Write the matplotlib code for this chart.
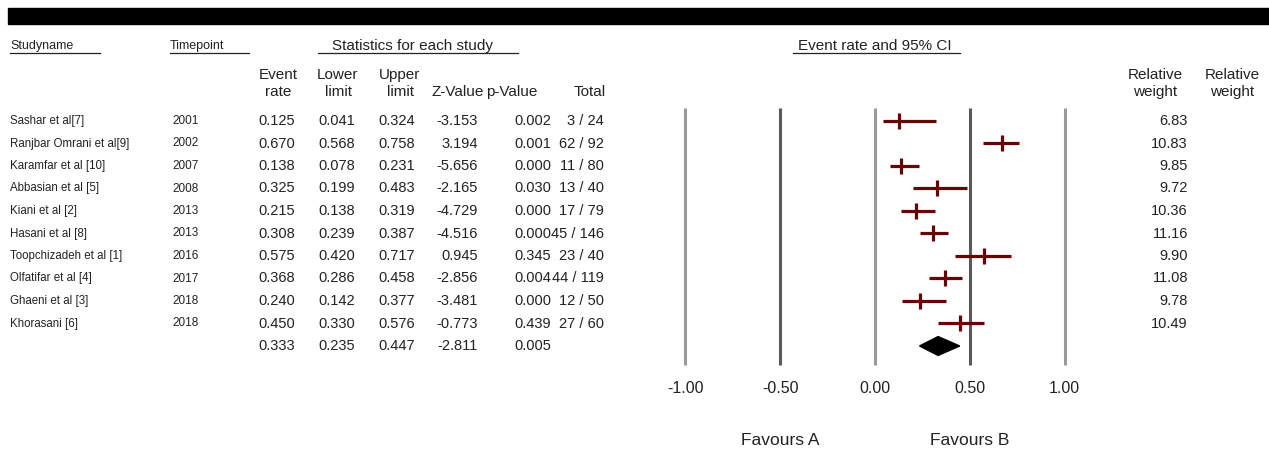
import numpy as np
import matplotlib.pyplot as plt
from matplotlib.patches import Polygon, Rectangle

plt.rcParams['font.family'] = ['Liberation Sans', 'DejaVu Sans']

studies = ['Sashar et al[7]', 'Ranjbar Omrani et al[9]', 'Karamfar et al [10]',
           'Abbasian et al [5]', 'Kiani et al [2]', 'Hasani et al [8]',
           'Toopchizadeh et al [1]', 'Olfatifar et al [4]', 'Ghaeni et al [3]',
           'Khorasani [6]']
years = ['2001', '2002', '2007', '2008', '2013', '2013', '2016', '2017', '2018', '2018']
rate = [0.125, 0.670, 0.138, 0.325, 0.215, 0.308, 0.575, 0.368, 0.240, 0.450]
lower = [0.041, 0.568, 0.078, 0.199, 0.138, 0.239, 0.420, 0.286, 0.142, 0.330]
upper = [0.324, 0.758, 0.231, 0.483, 0.319, 0.387, 0.717, 0.458, 0.377, 0.576]
zval = [-3.153, 3.194, -5.656, -2.165, -4.729, -4.516, 0.945, -2.856, -3.481, -0.773]
pval = ['0.002', '0.001', '0.000', '0.030', '0.000', '0.000', '0.345', '0.004', '0.000', '0.439']
total = ['3 / 24', '62 / 92', '11 / 80', '13 / 40', '17 / 79', '45 / 146',
         '23 / 40', '44 / 119', '12 / 50', '27 / 60']
weight = [6.83, 10.83, 9.85, 9.72, 10.36, 11.16, 9.90, 11.08, 9.78, 10.49]

pooled = (0.333, 0.235, 0.447, -2.811, '0.005')
ticks = [-1.0, -0.5, 0.0, 0.5, 1.0]

fig = plt.figure(figsize=(12.69, 4.5), dpi=100)

# table part, pixel coordinates
tab = fig.add_axes([0, 0, 1, 1])
tab.set_xlim(0, 1269)
tab.set_ylim(450, 0)
tab.axis('off')

tab.add_patch(Rectangle((8, 8), 1261, 16, color='black'))

fs = 10.5
hs = 11
txtc = '#222222'
def ul(x0, x1, y):
    tab.plot([x0, x1], [y, y], color=txtc, lw=0.9)

tab.text(10, 46, 'Studyname', fontsize=9, va='center', color=txtc)
ul(10, 100, 53)
tab.text(170, 46, 'Timepoint', fontsize=9, va='center', color=txtc)
ul(170, 249, 53)
tab.text(412, 46, 'Statistics for each study', fontsize=hs, ha='center', va='center', color=txtc)
ul(318, 518, 53)
tab.text(875, 46, 'Event rate and 95% CI', fontsize=hs, ha='center', va='center', color=txtc)
ul(793, 960, 53)

heads = [(278, 'Event', 'rate'), (338, 'Lower', 'limit'), (400, 'Upper', 'limit'),
         (458, '', 'Z-Value'), (512, '', 'p-Value'), (590, '', 'Total'),
         (1155, 'Relative', 'weight'), (1232, 'Relative', 'weight')]
for x, a, b in heads:
    tab.text(x, 75, a, fontsize=hs, ha='center', va='center', color=txtc)
    tab.text(x, 92, b, fontsize=hs, ha='center', va='center', color=txtc)

y0, dy = 121, 22.5
for i in range(len(studies)):
    y = y0 + i * dy
    tab.text(10, y, studies[i], fontsize=8.3, va='center', color=txtc)
    tab.text(172, y, years[i], fontsize=8.5, va='center', color=txtc)
    tab.text(258, y, f'{rate[i]:.3f}', fontsize=fs, va='center', color=txtc)
    tab.text(318, y, f'{lower[i]:.3f}', fontsize=fs, va='center', color=txtc)
    tab.text(378, y, f'{upper[i]:.3f}', fontsize=fs, va='center', color=txtc)
    tab.text(478, y, f'{zval[i]:.3f}', fontsize=fs, va='center', ha='right', color=txtc)
    tab.text(514, y, pval[i], fontsize=fs, va='center', color=txtc)
    tab.text(604, y, total[i], fontsize=fs, va='center', ha='right', color=txtc)
    tab.text(1188, y, f'{weight[i]:.2f}', fontsize=fs, va='center', ha='right', color=txtc)

ys = y0 + len(studies) * dy
tab.text(258, ys, f'{pooled[0]:.3f}', fontsize=fs, va='center', color=txtc)
tab.text(318, ys, f'{pooled[1]:.3f}', fontsize=fs, va='center', color=txtc)
tab.text(378, ys, f'{pooled[2]:.3f}', fontsize=fs, va='center', color=txtc)
tab.text(478, ys, f'{pooled[3]:.3f}', fontsize=fs, va='center', ha='right', color=txtc)
tab.text(514, ys, pooled[4], fontsize=fs, va='center', color=txtc)

# forest plot
ax = fig.add_axes([640 / 1269, 1 - 370 / 450, 470 / 1269, 270 / 450])
ax.set_xlim(-1.24, 1.24)
ax.set_ylim(11.067, -0.933)
ax.axis('off')

for t in ticks:
    c = '#5a5a5a' if abs(t) == 0.5 else '#9a9a9a'
    ax.plot([t, t], [-0.58, 10.84], color=c, lw=2.2, solid_capstyle='butt')
    ax.text(t, 11.91, f'{t:.2f}', fontsize=11.5, ha='center', va='center', color=txtc, clip_on=False)

red = '#650505'
for i in range(len(studies)):
    ax.plot([lower[i], upper[i]], [i, i], color=red, lw=2.3, solid_capstyle='butt')
    ax.plot([rate[i]], [i], marker='|', color=red, ms=11, mew=2.3)

h = 0.42
ax.add_patch(Polygon([(pooled[1], 10), (pooled[0], 10 - h), (pooled[2], 10), (pooled[0], 10 + h)],
                     closed=True, color='black'))

ax.text(-0.5, 14.18, 'Favours A', fontsize=12.5, ha='center', va='center', color=txtc, clip_on=False)
ax.text(0.5, 14.18, 'Favours B', fontsize=12.5, ha='center', va='center', color=txtc, clip_on=False)

fig.savefig('out.png', dpi=100)
